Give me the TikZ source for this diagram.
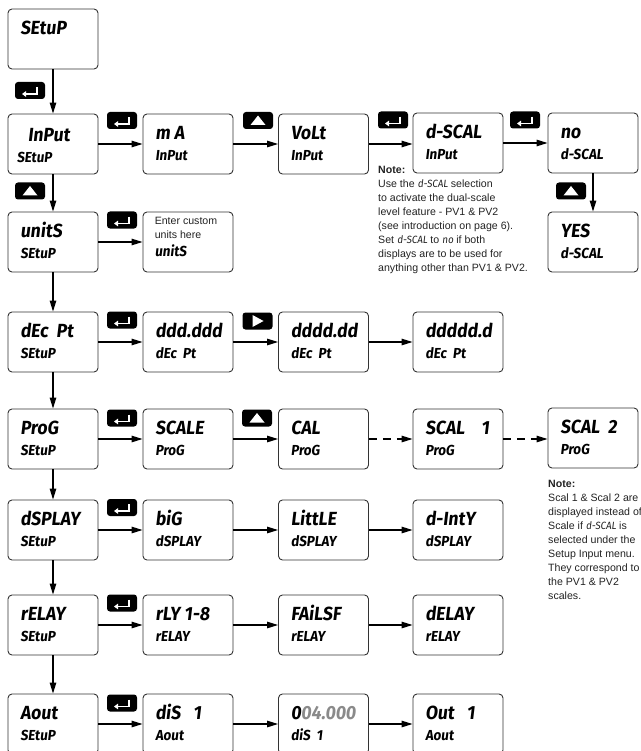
\documentclass[tikz,border=0pt]{standalone}
\usepackage{fontspec}
\setmainfont{Liberation Sans}
\newfontfamily\segf[FakeSlant=0.12,FakeStretch=0.92]{Fira Sans}
\usetikzlibrary{arrows.meta}
\definecolor{boxline}{HTML}{333333}
\definecolor{notetext}{HTML}{222222}
\definecolor{dimdigit}{HTML}{8A8A8A}
\tikzset{
  dbox/.style={draw=boxline, line width=0.9pt, rounded corners=4pt, minimum width=90pt, minimum height=60pt, inner sep=0pt},
  bigt/.style={anchor=base west, inner sep=0pt, font=\segf\bfseries\fontsize{19}{19}\selectfont},
  smallt/.style={anchor=base west, inner sep=0pt, font=\segf\bfseries\fontsize{14.5}{14.5}\selectfont},
  keyb/.style={fill=black, rounded corners=3pt, minimum width=30pt, minimum height=17pt, inner sep=0pt},
  conn/.style={line width=1.2pt, -{Triangle[length=11pt,width=6.5pt]}},
  dconn/.style={conn, dash pattern=on 8pt off 6pt},
  notet/.style={anchor=north west, inner sep=0pt, align=left, text=notetext, font=\fontsize{10.6}{14}\selectfont}
}
\newcommand\segn[1]{{\segf\fontsize{10.5}{10}\selectfont #1}}
\newcommand\dispbox[5]{%
  \node[dbox] (#1) at (#2,#3) {};
  \node[bigt] (#1-t) at ([xshift=12.5pt,yshift=-26pt]#1.north west) {#4};
  \node[smallt] (#1-b) at ([xshift=12.5pt,yshift=-47pt]#1.north west) {#5};
}
\newcommand\enterkey[3]{%
  \node[keyb] (#1) at (#2,#3) {};
  \draw[white, line width=1.5pt, -{Triangle[length=4pt,width=5.5pt]}]
    ([xshift=7pt,yshift=3.3pt]#1.center) -- ([xshift=7pt,yshift=-3.5pt]#1.center)
    -- ([xshift=-8pt,yshift=-3.5pt]#1.center);
}
\newcommand\upkey[3]{%
  \node[keyb] (#1) at (#2,#3) {};
  \fill[white] ([xshift=-7.5pt,yshift=-4.5pt]#1.center) -- ([xshift=7.5pt,yshift=-4.5pt]#1.center)
    -- ([yshift=5pt]#1.center) -- cycle;
}
\newcommand\rightkey[3]{%
  \node[keyb] (#1) at (#2,#3) {};
  \fill[white] ([xshift=-5pt,yshift=6pt]#1.center) -- ([xshift=-5pt,yshift=-6pt]#1.center)
    -- ([xshift=6pt]#1.center) -- cycle;
}
\begin{document}
\begin{tikzpicture}[x=1pt,y=-1pt]
\useasboundingbox (0,0) rectangle (640,751);
\clip (0,0) rectangle (640,751);
% row 0
\node[dbox] (setup) at (53,39) {};
\node[bigt] (setup-t) at ([xshift=12.5pt,yshift=-26pt]setup.north west) {SEtuP};
% row 1
\node[dbox] (input) at (53,144) {};
\node[bigt] (input-t) at ([xshift=20pt,yshift=-28pt]input.north west) {InPut};
\node[smallt] (input-b) at ([xshift=9pt,yshift=-49pt]input.north west) {SEtuP};
\dispbox{ma}{188}{144}{m A}{InPut}
\dispbox{volt}{323.5}{144}{VoLt}{InPut}
\dispbox{dscal}{458}{143}{d-SCAL}{InPut}
\dispbox{no}{593}{143}{no}{d-SCAL}
\dispbox{yes}{593}{242}{YES}{d-SCAL}
% row 2
\dispbox{units}{53}{242}{unitS}{SEtuP}
\node[dbox] (unitsin) at (188,242) {};
\node[notet, anchor=base west] (unitsin-t) at ([xshift=12pt,yshift=-13pt]unitsin.north west) {Enter custom};
\node[notet, anchor=base west] (unitsin-m) at ([xshift=12pt,yshift=-26.5pt]unitsin.north west) {units here};
\node[smallt] (unitsin-b) at ([xshift=12pt,yshift=-45pt]unitsin.north west) {unitS};
% row 3
\dispbox{decpt}{53}{342}{dEc\ \ Pt}{SEtuP}
\dispbox{dA}{188}{342}{ddd.ddd}{dEc\ \ Pt}
\dispbox{dB}{323.5}{342}{dddd.dd}{dEc\ \ Pt}
\dispbox{dC}{458}{342}{ddddd.d}{dEc\ \ Pt}
% row 4
\dispbox{prog}{53}{439}{ProG}{SEtuP}
\dispbox{scale}{188}{439}{SCALE}{ProG}
\dispbox{cal}{323.5}{439}{CAL}{ProG}
\dispbox{scalA}{458}{439}{SCAL\ \ \ \ 1}{ProG}
\dispbox{scalB}{593}{438}{SCAL\ \ 2}{ProG}
% row 5
\dispbox{dsplay}{53}{530}{dSPLAY}{SEtuP}
\dispbox{big}{188}{530}{biG}{dSPLAY}
\dispbox{little}{323.5}{530}{LittLE}{dSPLAY}
\dispbox{dinty}{458}{530}{d-IntY}{dSPLAY}
% row 6
\dispbox{relay}{53}{625}{rELAY}{SEtuP}
\dispbox{rly}{188}{625}{rLY 1-8}{rELAY}
\dispbox{failsf}{323.5}{625}{FAiLSF}{rELAY}
\dispbox{delay}{458}{625}{dELAY}{rELAY}
% row 7
\dispbox{aout}{53}{724}{Aout}{SEtuP}
\dispbox{dis}{188}{724}{diS\ \ \ 1}{Aout}
\dispbox{val}{323.5}{724}{0\textcolor{dimdigit}{04.000}}{diS\ \ 1}
\dispbox{out}{458}{724}{Out\ \ \ 1}{Aout}
% keys
\enterkey{k01}{30}{90.5}
\upkey{k12}{30}{191}
\enterkey{k1a}{122}{120.5}
\upkey{k1b}{258}{120.5}
\enterkey{k1c}{393}{120}
\enterkey{k1d}{525}{120}
\upkey{k1e}{571}{191}
\enterkey{k2a}{122}{220}
\enterkey{k3a}{122}{320}
\rightkey{k3b}{257.5}{321}
\enterkey{k4a}{122}{418}
\upkey{k4b}{257}{418}
\enterkey{k5a}{122}{507.5}
\enterkey{k6a}{122}{603}
\enterkey{k7a}{122}{703}
% vertical connectors
\draw[conn] (setup.south) -- (input.north);
\draw[conn] (input.south) -- (units.north);
\draw[conn] (units.south) -- (decpt.north);
\draw[conn] (decpt.south) -- (prog.north);
\draw[conn] (prog.south) -- (dsplay.north);
\draw[conn] (dsplay.south) -- (relay.north);
\draw[conn] (relay.south) -- (aout.north);
\draw[conn] (no.south) -- (yes.north);
% horizontal connectors
\draw[conn] (input.east) -- (ma.west);
\draw[conn] (ma.east) -- (volt.west);
\draw[conn] (volt.east) -- (dscal.west |- volt.east);
\draw[conn] (dscal.east) -- (no.west);
\draw[conn] (units.east) -- (unitsin.west);
\draw[conn] (decpt.east) -- (dA.west);
\draw[conn] (dA.east) -- (dB.west);
\draw[conn] (dB.east) -- (dC.west);
\draw[conn] (prog.east) -- (scale.west);
\draw[conn] (scale.east) -- (cal.west);
\draw[dconn] (cal.east) -- (scalA.west);
\draw[dconn] (scalA.east) -- (scalB.west |- scalA.east);
\draw[conn] (dsplay.east) -- (big.west);
\draw[conn] (big.east) -- (little.west);
\draw[conn] (little.east) -- (dinty.west);
\draw[conn] (relay.east) -- (rly.west);
\draw[conn] (rly.east) -- (failsf.west);
\draw[conn] (failsf.east) -- (delay.west);
\draw[conn] (aout.east) -- (dis.west);
\draw[conn] (dis.east) -- (val.west);
\draw[conn] (val.east) -- (out.west);
% notes
\node[notet] (note1) at (378,166) {\textbf{Note:}\\
Use the \segn{d-SCAL} selection\\
to activate the dual-scale\\
level feature - PV1 \& PV2\\
(see introduction on page 6).\\
Set \segn{d-SCAL} to \segn{no} if both\\
displays are to be used for\\
anything other than PV1 \& PV2.};
\node[notet] (note2) at (548,480) {\textbf{Note:}\\
Scal 1 \& Scal 2 are\\
displayed instead of\\
Scale if \segn{d-SCAL} is\\
selected under the\\
Setup Input menu.\\
They correspond to\\
the PV1 \& PV2\\
scales.};
\end{tikzpicture}
\end{document}
